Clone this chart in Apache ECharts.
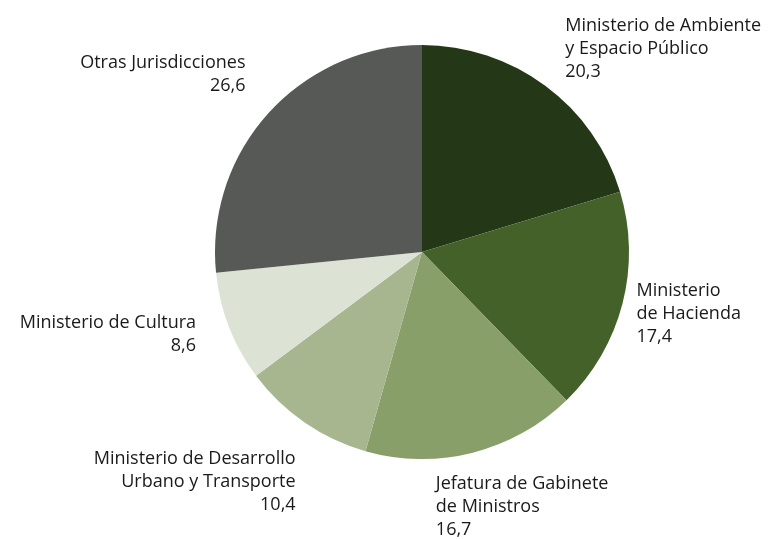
<!DOCTYPE html>
<html>
<head>
<meta charset="utf-8">
<script src="https://cdn.jsdelivr.net/npm/echarts@6/dist/echarts.min.js"></script>
<style>
html,body{margin:0;padding:0;background:#fff;}
#chart{width:772px;height:539px;}
</style>
</head>
<body>
<div id="chart"></div>
<script>
const categories = [
  "Ministerio de Ambiente\ny Espacio Público",
  "Ministerio\nde Hacienda",
  "Jefatura de Gabinete\nde Ministros",
  "Ministerio de Desarrollo\nUrbano y Transporte",
  "Ministerio de Cultura",
  "Otras Jurisdicciones"
];
const values = [20.3, 17.4, 16.7, 10.4, 8.6, 26.6];
const colors = ["#243716", "#436128", "#889f69", "#a7b68f", "#dde3d4", "#565956"];
const labelOffsets = [[15, -37], [9, 10], [-42, 54], [-4, 59], [-28, 7], [-18, -39]];

const data = categories.map((c, i) => ({
  name: c,
  value: values[i],
  itemStyle: { color: colors[i] },
  label: { offset: labelOffsets[i] }
}));

const chart = echarts.init(document.getElementById('chart'));
chart.setOption({
  animation: false,
  series: [{
    type: 'pie',
    center: [422, 252],
    radius: 207,
    startAngle: 90,
    clockwise: true,
    avoidLabelOverlap: false,
    data: data,
    label: {
      show: true,
      position: 'outside',
      fontFamily: 'Open Sans',
      fontSize: 18,
      lineHeight: 23,
      color: '#1a1a1a',
      formatter: p => p.name + '\n' + p.value.toFixed(1).replace('.', ',')
    },
    labelLine: { show: false, length: 0, length2: 0 },
    emphasis: { disabled: true }
  }]
});
</script>
</body>
</html>
